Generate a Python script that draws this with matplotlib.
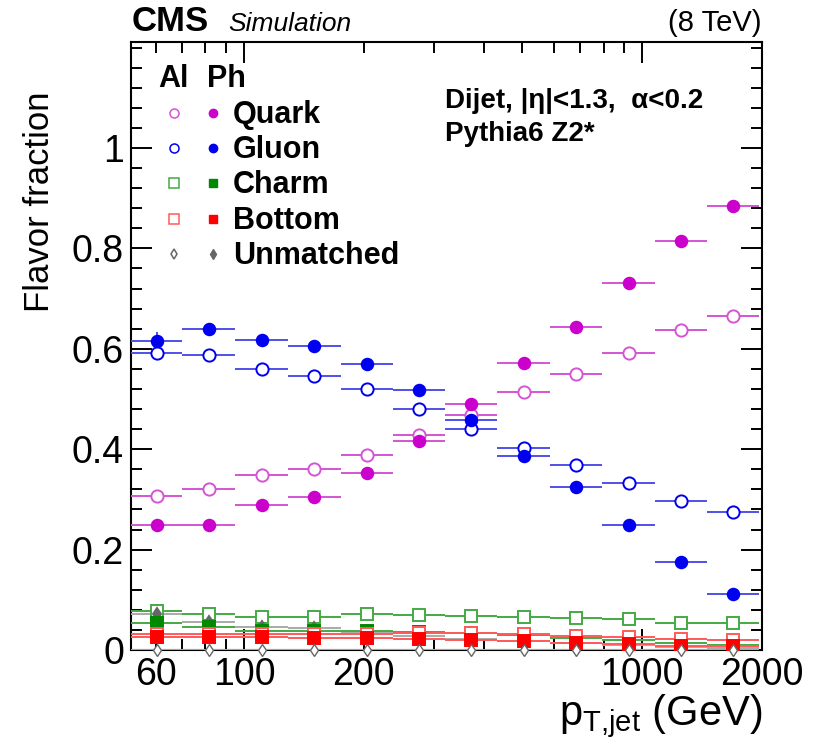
import numpy as np
import matplotlib
matplotlib.use("Agg")
import matplotlib.pyplot as plt
from matplotlib.ticker import FixedLocator, FixedFormatter

plt.rcParams['font.family'] = ['Liberation Sans', 'DejaVu Sans']
plt.rcParams['mathtext.fontset'] = 'custom'
plt.rcParams['mathtext.rm'] = 'Liberation Sans'
plt.rcParams['mathtext.it'] = 'Liberation Sans:italic'
plt.rcParams['mathtext.bf'] = 'Liberation Sans:bold'

# ---------------- data ----------------
bin_edges = np.array([52, 70, 95, 129, 175, 236, 320, 433, 588, 795, 1080, 1455, 1960])

quark_al = [0.306, 0.321, 0.349, 0.361, 0.388, 0.428, 0.469, 0.513, 0.550, 0.591, 0.637, 0.665]
quark_ph = [0.249, 0.249, 0.289, 0.304, 0.352, 0.417, 0.490, 0.572, 0.643, 0.730, 0.815, 0.884]
gluon_al = [0.592, 0.587, 0.560, 0.546, 0.519, 0.480, 0.440, 0.402, 0.368, 0.332, 0.297, 0.274]
gluon_ph = [0.616, 0.639, 0.618, 0.606, 0.570, 0.518, 0.458, 0.386, 0.325, 0.249, 0.175, 0.112]
gluon_ph_err = [0.017, 0.012, 0.004, 0.003, 0.003, 0.003, 0.003, 0.003, 0.003, 0.003, 0.003, 0.003]
charm_al = [0.078, 0.071, 0.066, 0.066, 0.071, 0.069, 0.068, 0.066, 0.064, 0.062, 0.054, 0.053]
charm_ph = [0.053, 0.045, 0.037, 0.037, 0.037, 0.035, 0.033, 0.030, 0.023, 0.020, 0.013, 0.010]
bottom_al = [0.032, 0.032, 0.032, 0.032, 0.032, 0.033, 0.033, 0.031, 0.028, 0.025, 0.022, 0.019]
bottom_ph = [0.025, 0.025, 0.025, 0.024, 0.024, 0.022, 0.019, 0.017, 0.014, 0.011, 0.008, 0.007]
unm_al = [0.0, 0.0, 0.0, 0.0, 0.0, 0.0, 0.0, 0.0, 0.0, 0.0, 0.0, 0.0]
unm_ph = [0.072, 0.056, 0.045, 0.043, 0.035, 0.028, 0.022, 0.018, 0.014, 0.010, 0.006, 0.004]
unm_ph_err = [0.012, 0.010, 0.005, 0.004, 0.003, 0.002, 0.002, 0.002, 0.001, 0.001, 0.001, 0.001]

legend_names = ["Quark", "Gluon", "Charm", "Bottom", "Unmatched"]
major_ticks = [100, 1000]
major_labels = ["100", "1000"]
minor_labeled = {60: "60", 200: "200", 2000: "2000"}

# ---------------- figure ----------------
W, H = 816, 747
fig = plt.figure(figsize=(W / 100, H / 100), dpi=100)
L, R, T, B = 131, 762, 42, 650
ax = fig.add_axes([L / W, 1 - B / H, (R - L) / W, (B - T) / H])

centers = np.sqrt(bin_edges[:-1] * bin_edges[1:])
xerr = np.vstack([centers - bin_edges[:-1], bin_edges[1:] - centers])

def draw(vals, marker, mfc, mec, lc, ms, yerr=None, z=3, mew=1.4, clip=True):
    cont = ax.errorbar(centers, vals, xerr=xerr, yerr=yerr, fmt=marker, ms=ms,
                       mfc=mfc, mec=mec, ecolor=lc, elinewidth=1.4, capsize=0,
                       mew=mew, zorder=z)
    if not clip:
        cont[0].set_clip_on(False)

MAG, MAGL = '#cc00cc', '#d455d4'
BLU, BLUL = '#0000f0', '#5050e8'
GRN, GRNL = '#008800', '#44aa44'
RED, REDL = '#ff0000', '#ff5a5a'
GRY, GRYL = '#666666', '#aaaaaa'

draw(quark_al, 'o', 'white', MAGL, MAGL, 8.8)
draw(quark_ph, 'o', MAG, MAG, MAGL, 8.3)
draw(gluon_al, 'o', 'white', BLU, BLUL, 8.8)
draw(gluon_ph, 'o', BLU, BLU, BLUL, 8.3, yerr=gluon_ph_err)
draw(charm_al, 's', 'white', GRNL, GRNL, 8.0)
draw(unm_ph, 'd', GRY, GRY, GRYL, 6.5, yerr=unm_ph_err)
draw(charm_ph, 's', GRN, GRN, GRNL, 8.0)
draw(bottom_al, 's', 'white', REDL, REDL, 8.0)
draw(bottom_ph, 's', RED, RED, REDL, 8.0)
draw(unm_al, 'd', 'white', GRY, GRYL, 6.5, mew=1.0, clip=False)

ax.set_xscale('log')
ax.set_xlim(52, 2000)
ax.set_ylim(0, 1.211)

ax.xaxis.set_major_locator(FixedLocator(major_ticks))
ax.xaxis.set_major_formatter(FixedFormatter(major_labels))
minor = [60, 70, 80, 90] + [200, 300, 400, 500, 600, 700, 800, 900] + [2000]
ax.xaxis.set_minor_locator(FixedLocator(minor))
ax.xaxis.set_minor_formatter(FixedFormatter([minor_labeled.get(m, "") for m in minor]))

ax.yaxis.set_major_locator(FixedLocator([0, 0.2, 0.4, 0.6, 0.8, 1.0]))
ax.yaxis.set_major_formatter(FixedFormatter(["0", "0.2", "0.4", "0.6", "0.8", "1"]))
ax.yaxis.set_minor_locator(FixedLocator(np.arange(0, 1.21, 0.04)))

for s in ax.spines.values():
    s.set_linewidth(1.5)
ax.tick_params(which='both', direction='in', top=True, right=True, width=1.4,
               labelsize=27, colors='black')
ax.tick_params(which='major', length=15, pad=5)
ax.tick_params(which='minor', length=8, pad=5)

# axis titles
fig.text(40 / W, 1 - 91 / H, 'Flavor fraction', rotation=90, ha='center', va='top', fontsize=25)
fig.text(R / W, 1 - 725 / H, r'p$_{\mathrm{T{,}jet}}$ (GeV)', ha='right', va='baseline', fontsize=30)

# header texts
fig.text(132 / W, 1 - 31 / H, 'CMS', fontsize=25, fontweight='bold', ha='left', va='baseline')
fig.text(228 / W, 1 - 31 / H, 'Simulation', fontsize=19, fontstyle='italic', ha='left', va='baseline')
fig.text(R / W, 1 - 31 / H, '(8 TeV)', fontsize=21, ha='right', va='baseline')

fig.text(445 / W, 1 - 108 / H, 'Dijet, |η|<1.3,  α<0.2', fontsize=20, fontweight='bold',
         ha='left', va='baseline')
fig.text(445 / W, 1 - 141 / H, 'Pythia6 Z2*', fontsize=20, fontweight='bold',
         ha='left', va='baseline')

# legend (manual)
def axc(px, py):
    return (px - L) / (R - L), (B - py) / (B - T)

fig.text(158 / W, 1 - 87 / H, 'Al', fontsize=22, fontweight='bold', ha='left', va='baseline')
fig.text(207 / W, 1 - 87 / H, 'Ph', fontsize=22, fontweight='bold', ha='left', va='baseline')
rows = [113, 148, 183, 219, 254]
leg_style = [
    ('o', MAGL, MAG, 6.5, 6.0),
    ('o', BLU, BLU, 6.5, 6.0),
    ('s', GRNL, GRN, 6.5, 6.0),
    ('s', REDL, RED, 6.5, 6.0),
    ('d', GRY, GRY, 5.5, 5.0),
]
for name, py, (mk, c_al, c_ph, ms_al, ms_ph) in zip(legend_names, rows, leg_style):
    x1, y1 = axc(174, py)
    x2, y2 = axc(213, py)
    ax.plot([x1], [y1], mk, ms=ms_al, mfc='white', mec=c_al, mew=1.1,
            transform=ax.transAxes, clip_on=False, zorder=5)
    ax.plot([x2], [y2], mk, ms=ms_ph, mfc=c_ph, mec=c_ph, mew=1.0,
            transform=ax.transAxes, clip_on=False, zorder=5)
    fig.text(233 / W, 1 - (py + 10) / H, name, fontsize=22, fontweight='bold',
             ha='left', va='baseline')

fig.savefig('out.png', dpi=100)
